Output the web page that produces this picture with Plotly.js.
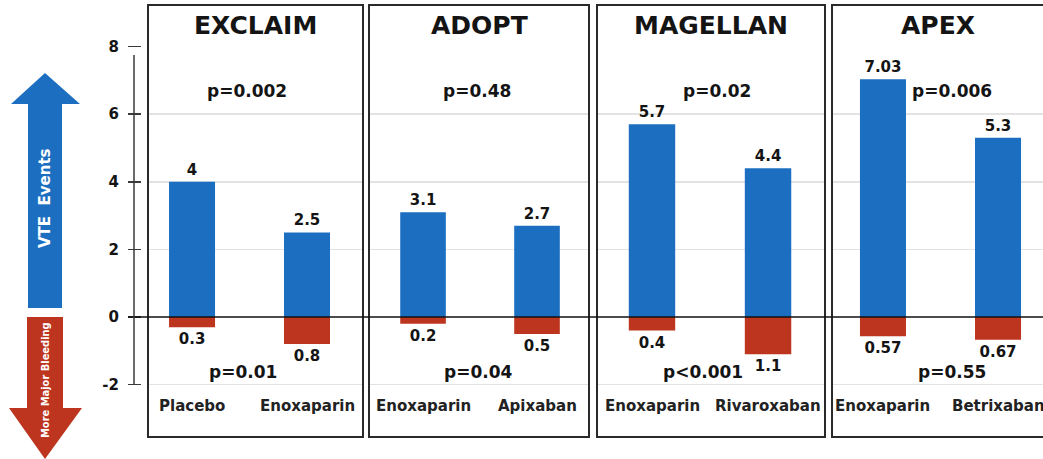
<!DOCTYPE html>
<html>
<head>
<meta charset="utf-8">
<script src="https://cdn.plot.ly/plotly-3.0.1.min.js"></script>
<style>
  html, body { margin: 0; padding: 0; background: #ffffff; }
  #chart { width: 1043px; height: 459px; }
</style>
</head>
<body>
<div id="chart"></div>
<script>
// Trial results: VTE event rates (up) and major bleeding rates (down), %
const trials = ['EXCLAIM', 'ADOPT', 'MAGELLAN', 'APEX'];
const armNames = [
  ['Placebo', 'Enoxaparin'],
  ['Enoxaparin', 'Apixaban'],
  ['Enoxaparin', 'Rivaroxaban'],
  ['Enoxaparin', 'Betrixaban']
];
const vteRates = [[4, 2.5], [3.1, 2.7], [5.7, 4.4], [7.03, 5.3]];
const bleedRates = [[0.3, 0.8], [0.2, 0.5], [0.4, 1.1], [0.57, 0.67]];
const vtePValues = ['p=0.002', 'p=0.48', 'p=0.02', 'p=0.006'];
const bleedPValues = ['p=0.01', 'p=0.04', 'p<0.001', 'p=0.55'];
const yTicks = [-2, 0, 2, 4, 6, 8];
const gridLevels = [-2, 2, 4, 6];

// ---- page geometry helpers (pixel -> paper fraction) ----
const W = 1043, H = 459;
const px = v => v / W;
const py = v => (H - v) / H;

// panel frames in pixels and the x range that places the two bars
const panelEdges = [[148, 363], [369, 589], [597, 825], [832, 1050]];
const panelRanges = [[-0.383, 1.487], [-0.474, 1.456], [-0.474, 1.491], [-0.443, 1.391]];
const pTopX = [0.48, 0.47, 0.56, 0.6];
const pBottomX = [0.44, 0.49, 0.44, 0.6];

const BLUE = '#1c6ec1';
const RED = '#bd351f';
const FONT = 'DejaVu Sans, Verdana, sans-serif';
const INK = '#141414';

const axisId = i => (i === 0 ? 'x' : 'x' + (i + 1));
const axisKey = i => (i === 0 ? 'xaxis' : 'xaxis' + (i + 1));

const traces = [];
const annotations = [];
const shapes = [];
const layout = {
  width: W,
  height: H,
  margin: { l: 0, r: 0, t: 0, b: 0 },
  paper_bgcolor: '#ffffff',
  plot_bgcolor: 'rgba(0,0,0,0)',
  showlegend: false,
  barmode: 'overlay',
  font: { family: FONT, color: INK },
  yaxis: {
    domain: [py(437), py(5)],
    range: [-3.55, 9.23],
    anchor: 'free',
    position: px(141),
    tickvals: yTicks,
    ticktext: yTicks.map(String),
    ticks: 'outside',
    ticklen: 13,
    tickwidth: 1.5,
    tickcolor: '#3a3a3a',
    ticklabelstandoff: 6,
    tickfont: { family: FONT, size: 15, color: INK, weight: 'bold' },
    showgrid: false,
    zeroline: false,
    showline: false,
    fixedrange: true,
    minor: { tickvals: gridLevels, showgrid: true, gridcolor: '#e3e3e3', gridwidth: 1.5, ticks: '' }
  }
};

trials.forEach((name, i) => {
  const xa = axisId(i);
  const [L, R] = panelEdges[i];
  layout[axisKey(i)] = {
    domain: [px(L), Math.min(px(R), 1)],
    range: panelRanges[i],
    type: 'category',
    anchor: 'y',
    showticklabels: false,
    ticks: '',
    showgrid: false,
    zeroline: false,
    showline: false,
    fixedrange: true
  };

  // VTE events (upward bars)
  traces.push({
    type: 'bar',
    xaxis: xa, yaxis: 'y',
    x: armNames[i],
    y: vteRates[i],
    text: vteRates[i].map(String),
    textposition: 'outside',
    constraintext: 'none',
    cliponaxis: false,
    width: 0.4,
    marker: { color: BLUE },
    textfont: { family: FONT, size: 15, color: INK, weight: 'bold' },
    hoverinfo: 'skip'
  });

  // major bleeding (downward bars)
  traces.push({
    type: 'bar',
    xaxis: xa, yaxis: 'y',
    x: armNames[i],
    y: bleedRates[i].map(v => -v),
    text: bleedRates[i].map(String),
    textposition: 'outside',
    constraintext: 'none',
    cliponaxis: false,
    width: 0.4,
    marker: { color: RED },
    textfont: { family: FONT, size: 15, color: INK, weight: 'bold' },
    hoverinfo: 'skip'
  });

  // trial name
  annotations.push({
    xref: xa + ' domain', yref: 'paper',
    x: i === 3 ? 0.5 : 0.5, y: py(26),
    text: name, showarrow: false,
    xanchor: 'center', yanchor: 'middle',
    font: { family: FONT, size: 25, color: INK, weight: 'bold' }
  });

  // p-values
  annotations.push({
    xref: xa, yref: 'y', x: pTopX[i], y: 6.7,
    text: vtePValues[i], showarrow: false,
    xanchor: 'center', yanchor: 'middle',
    font: { family: FONT, size: 17, color: INK, weight: 'bold' }
  });
  annotations.push({
    xref: xa, yref: 'y', x: pBottomX[i], y: -1.63,
    text: bleedPValues[i], showarrow: false,
    xanchor: 'center', yanchor: 'middle',
    font: { family: FONT, size: 17, color: INK, weight: 'bold' }
  });

  // treatment arm labels
  armNames[i].forEach((arm, j) => {
    annotations.push({
      xref: xa, yref: 'y', x: j, y: -2.62,
      text: arm, showarrow: false,
      xanchor: 'center', yanchor: 'middle',
      font: { family: FONT, size: 15, color: '#222222', weight: 'bold' }
    });
  });

  // panel frame
  shapes.push({
    type: 'rect', xref: 'paper', yref: 'paper',
    x0: px(L), x1: px(R), y0: py(437), y1: py(5),
    line: { color: '#2a2a2a', width: 2 },
    layer: 'above'
  });
});

// zero baseline across all panels
shapes.push({
  type: 'line', xref: 'paper', yref: 'y',
  x0: px(128), x1: 1, y0: 0, y1: 0,
  line: { color: '#111111', width: 1.5 },
  layer: 'above'
});

// vertical value axis line
shapes.push({
  type: 'line', xref: 'paper', yref: 'y',
  x0: px(134), x1: px(134), y0: -2, y1: 7.75,
  line: { color: '#3a3a3a', width: 1.5 },
  layer: 'above'
});

// direction arrows on the left
const pathFrom = pts => 'M ' + pts.map(([x, y]) => px(x).toFixed(5) + ',' + py(y).toFixed(5)).join(' L ') + ' Z';
shapes.push({
  type: 'path', xref: 'paper', yref: 'paper',
  path: pathFrom([[45, 73], [80, 104], [62, 104], [62, 308], [28, 308], [28, 104], [11, 104]]),
  fillcolor: BLUE, line: { width: 0 }
});
shapes.push({
  type: 'path', xref: 'paper', yref: 'paper',
  path: pathFrom([[27, 317], [63, 317], [63, 408], [82, 408], [45, 459], [9, 408], [27, 408]]),
  fillcolor: RED, line: { width: 0 }
});
annotations.push({
  xref: 'paper', yref: 'paper', x: px(45), y: py(198),
  text: 'VTE  Events', textangle: -90, showarrow: false,
  xanchor: 'center', yanchor: 'middle',
  font: { family: FONT, size: 15, color: '#ffffff', weight: 'bold' }
});
annotations.push({
  xref: 'paper', yref: 'paper', x: px(45), y: py(380),
  text: 'More Major Bleeding', textangle: -90, showarrow: false,
  xanchor: 'center', yanchor: 'middle',
  font: { family: 'DejaVu Sans Condensed, Liberation Sans Narrow, ' + FONT, size: 11, color: '#ffffff', weight: 'bold' }
});

layout.annotations = annotations;
layout.shapes = shapes;

Plotly.newPlot('chart', traces, layout, { displayModeBar: false, staticPlot: true });
</script>
</body>
</html>
